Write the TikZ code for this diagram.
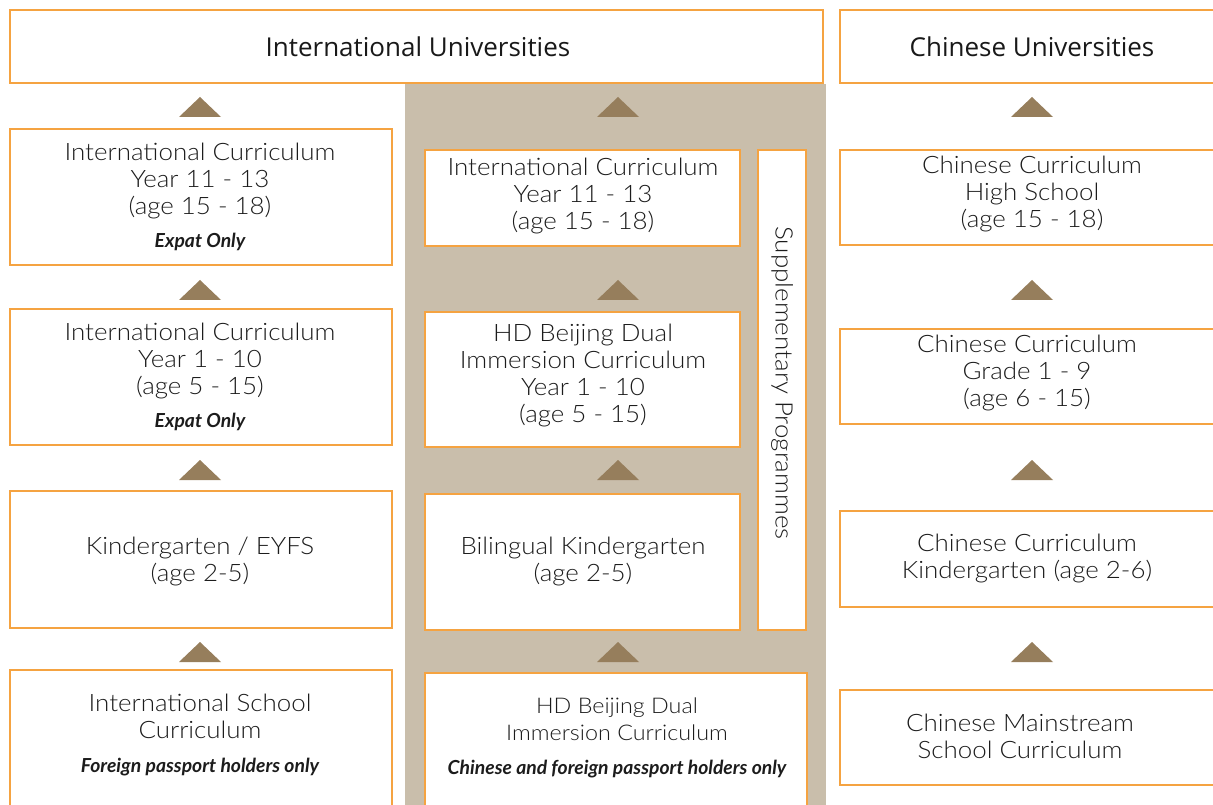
\documentclass[tikz,border=0pt]{standalone}
\usepackage{fontspec}
\setmainfont{Lato}[UprightFont=* Light, FakeStretch=1.08]
\newfontfamily\headfont{Open Sans}
\newfontfamily\notefont{Lato}[UprightFont=* Bold Italic]
\definecolor{orangeline}{RGB}{245,163,65}
\definecolor{beige}{RGB}{201,190,171}
\definecolor{arrowbrown}{RGB}{150,126,92}
\definecolor{textgray}{RGB}{28,28,28}
\newcommand\bodytext{\fontsize{18}{20.25}\selectfont}
\newcommand\smalltext{\fontsize{16.2}{20.25}\selectfont}
\newcommand\notetext{\notefont\fontsize{14.5}{16}\selectfont}
\newcommand\headtext{\headfont\fontsize{19.5}{23}\selectfont}

\begin{document}
\begin{tikzpicture}[x=0.75pt,y=-0.75pt,
    box/.style={draw=orangeline, line width=2.2pt, fill=white},
    txt/.style={align=center, text=textgray, font=\bodytext, inner sep=0pt},
    head/.style={text=black!90, font=\headtext, inner sep=0pt},
    uparrow/.style={fill=arrowbrown}]
    \useasboundingbox (0,0) rectangle (1213,805);
    \clip (0,0) rectangle (1213,805);
    % background of the dual immersion track
    \fill[beige] (405,84) rectangle (826,830);
    % universities
    \draw[box] (10,10) rectangle (823,83);
    \draw[box] (840,10) rectangle (1240,83);
    \node[head] (intuni) at (418,47) {International Universities};
    \node[head] (chnuni) at (1032,47) {Chinese Universities};
    % international track
    \draw[box] (10,129) rectangle (392,265);
    \draw[box] (10,309) rectangle (392,445);
    \draw[box] (10,491) rectangle (392,628);
    \draw[box] (10,670) rectangle (392,840);
    \node[txt] (intsenior) at (200,197) {International Curriculum\\Year 11 - 13\\(age 15 - 18)\\[4.5pt]{\notetext Expat Only}};
    \node[txt] (intjunior) at (200,377) {International Curriculum\\Year 1 - 10\\(age 5 - 15)\\[4.5pt]{\notetext Expat Only}};
    \node[txt] (intkg) at (200,561) {Kindergarten / EYFS\\(age 2-5)};
    \node[txt] (intschool) at (200,735) {International School\\Curriculum\\[5pt]{\notetext Foreign passport holders only}};
    % dual immersion track
    \draw[box] (425,150) rectangle (740,246);
    \draw[box] (425,312) rectangle (740,447);
    \draw[box] (425,494) rectangle (740,630);
    \draw[box] (758,150) rectangle (806,630);
    \draw[box] (425,673) rectangle (807,840);
    \node[txt] (dualsenior) at (583,196) {International Curriculum\\Year 11 - 13\\(age 15 - 18)};
    \node[txt] (dualjunior) at (583,375) {HD Beijing Dual\\Immersion Curriculum\\Year 1 - 10\\(age 5 - 15)};
    \node[txt] (dualkg) at (583,561) {Bilingual Kindergarten\\(age 2-5)};
    \node[txt, rotate=-90] (supp) at (782,383) {Supplementary Programmes};
    \node[txt] (dualschool) at (617,738) {\smalltext HD Beijing Dual\\\smalltext Immersion Curriculum\\[5pt]{\notetext Chinese and foreign passport holders only}};
    % chinese track
    \draw[box] (840,150) rectangle (1240,245);
    \draw[box] (840,329) rectangle (1240,424);
    \draw[box] (840,511) rectangle (1240,607);
    \draw[box] (840,690) rectangle (1240,785);
    \node[txt] (chnhigh) at (1032,194) {Chinese Curriculum\\High School\\(age 15 - 18)};
    \node[txt] (chngrade) at (1027,373) {Chinese Curriculum\\Grade 1 - 9\\(age 6 - 15)};
    \node[txt] (chnkg) at (1027,558) {Chinese Curriculum\\Kindergarten (age 2-6)};
    \node[txt] (chnschool) at (1020,736) {Chinese Mainstream\\School Curriculum};
    % arrows up
    \foreach \x in {200,618,1032}
        \foreach \y in {97,280,460,642}
            \fill[uparrow] (\x-21,\y+20) -- (\x+21,\y+20) -- (\x,\y) -- cycle;
\end{tikzpicture}
\end{document}
